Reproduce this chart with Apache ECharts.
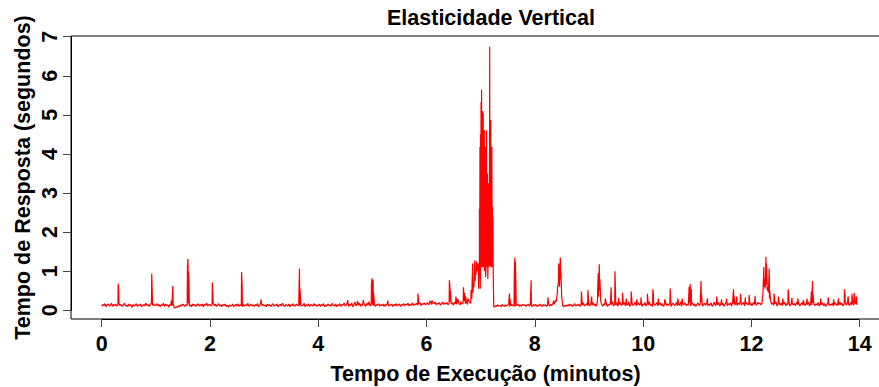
<!DOCTYPE html>
<html>
<head>
<meta charset="utf-8">
<script src="https://cdn.jsdelivr.net/npm/echarts@6/dist/echarts.min.js"></script>
<style>
html,body{margin:0;padding:0;background:#fff;}
#chart{width:879px;height:387px;}
</style>
</head>
<body>
<div id="chart"></div>
<script>
// Baseline response times, one array per minute, sampled every 0.02 min
const SAMPLE_STEP = 0.02;
const m0 = [0.10,0.15,0.12,0.17,0.09,0.14,0.16,0.11,0.13,0.18,0.10,0.15,0.12,0.16,0.11,0.14,0.17,0.12,0.15,0.10,0.14,0.18,0.11,0.13,0.09,0.16,0.12,0.14,0.08,0.15,0.11,0.13,0.17,0.10,0.14,0.12,0.16,0.09,0.13,0.15,0.11,0.18,0.12,0.14,0.10,0.16,0.19,0.13,0.16,0.12];
const m1 = [0.13,0.17,0.11,0.15,0.09,0.14,0.12,0.18,0.10,0.16,0.12,0.14,0.08,0.15,0.13,0.11,0.17,0.07,0.06,0.09,0.07,0.12,0.09,0.14,0.11,0.16,0.13,0.10,0.15,0.12,0.18,0.11,0.14,0.09,0.16,0.12,0.15,0.10,0.13,0.17,0.11,0.14,0.12,0.16,0.09,0.15,0.13,0.18,0.11,0.14];
const m2 = [0.15,0.11,0.14,0.18,0.12,0.16,0.10,0.13,0.17,0.11,0.14,0.09,0.15,0.12,0.16,0.10,0.13,0.08,0.14,0.11,0.12,0.16,0.09,0.13,0.15,0.11,0.17,0.10,0.14,0.12,0.09,0.15,0.11,0.14,0.12,0.18,0.10,0.13,0.16,0.11,0.14,0.10,0.15,0.12,0.17,0.09,0.13,0.20,0.12,0.15];
const m3 = [0.11,0.14,0.09,0.16,0.12,0.15,0.10,0.13,0.17,0.11,0.14,0.12,0.16,0.09,0.13,0.15,0.11,0.18,0.12,0.10,0.15,0.13,0.11,0.16,0.09,0.14,0.12,0.17,0.10,0.13,0.16,0.12,0.14,0.10,0.15,0.11,0.13,0.18,0.09,0.14,0.12,0.16,0.10,0.15,0.13,0.11,0.17,0.12,0.14,0.10];
const m4 = [0.13,0.16,0.10,0.15,0.12,0.17,0.09,0.14,0.11,0.16,0.12,0.15,0.10,0.18,0.13,0.11,0.16,0.09,0.14,0.12,0.17,0.10,0.15,0.13,0.19,0.11,0.14,0.20,0.10,0.16,0.12,0.18,0.09,0.15,0.21,0.11,0.17,0.13,0.19,0.10,0.16,0.12,0.20,0.14,0.10,0.18,0.13,0.22,0.11,0.15];
const m5 = [0.14,0.11,0.16,0.10,0.15,0.13,0.17,0.11,0.14,0.12,0.16,0.10,0.15,0.12,0.18,0.11,0.14,0.13,0.16,0.10,0.15,0.12,0.17,0.11,0.14,0.16,0.10,0.15,0.13,0.17,0.12,0.16,0.14,0.18,0.11,0.15,0.13,0.19,0.12,0.16,0.14,0.18,0.13,0.16,0.20,0.12,0.17,0.15,0.19,0.14];
const m6 = [0.16,0.20,0.14,0.18,0.22,0.15,0.19,0.17,0.21,0.14,0.18,0.16,0.20,0.13,0.17,0.21,0.15,0.19,0.16,0.20,0.14,0.18,0.22,0.16,0.19,0.13,0.21,0.17,0.15,0.20,0.18,0.14,0.22,0.16,0.19,0.24,0.17,0.21,0.15,0.26,0.20,0.18,0.30,0.45,0.60,0.75,0.95,1.05,1.10,1.15];
const m7 = [1.15,1.10,1.20,1.10,1.15,1.00,1.10,1.20,1.15,1.10,1.20,1.10,1.00,0.08,0.12,0.10,0.14,0.11,0.13,0.09,0.15,0.12,0.10,0.14,0.11,0.13,0.16,0.10,0.12,0.15,0.11,0.13,0.09,0.14,0.12,0.16,0.10,0.13,0.11,0.15,0.12,0.14,0.10,0.13,0.16,0.11,0.14,0.12,0.10,0.15];
const m8 = [0.12,0.15,0.10,0.14,0.11,0.16,0.13,0.09,0.15,0.12,0.14,0.10,0.13,0.17,0.11,0.15,0.12,0.18,0.16,0.20,0.22,0.45,0.70,0.60,0.80,0.35,0.12,0.09,0.13,0.10,0.14,0.11,0.16,0.12,0.15,0.10,0.13,0.17,0.11,0.14,0.12,0.16,0.10,0.15,0.13,0.19,0.11,0.14,0.17,0.12];
const m9 = [0.15,0.11,0.18,0.13,0.20,0.12,0.16,0.10,0.22,0.35,0.50,0.25,0.14,0.11,0.17,0.13,0.20,0.10,0.15,0.12,0.18,0.14,0.22,0.11,0.16,0.13,0.19,0.10,0.15,0.21,0.12,0.17,0.14,0.20,0.11,0.16,0.13,0.22,0.10,0.15,0.18,0.12,0.16,0.21,0.11,0.14,0.19,0.13,0.17,0.10];
const m10 = [0.16,0.13,0.20,0.11,0.17,0.14,0.22,0.12,0.15,0.10,0.18,0.13,0.16,0.20,0.11,0.14,0.19,0.12,0.17,0.10,0.15,0.21,0.12,0.16,0.13,0.19,0.10,0.15,0.18,0.12,0.14,0.20,0.11,0.16,0.13,0.22,0.10,0.17,0.14,0.19,0.12,0.16,0.13,0.20,0.11,0.15,0.18,0.12,0.16,0.10];
const m11 = [0.15,0.19,0.12,0.16,0.22,0.11,0.14,0.18,0.13,0.20,0.11,0.16,0.13,0.19,0.10,0.15,0.21,0.12,0.17,0.14,0.20,0.11,0.16,0.13,0.18,0.10,0.15,0.22,0.12,0.17,0.14,0.19,0.11,0.23,0.16,0.13,0.20,0.12,0.18,0.15,0.22,0.13,0.17,0.20,0.11,0.16,0.19,0.14,0.18,0.13];
const m12 = [0.17,0.12,0.20,0.15,0.18,0.13,0.21,0.16,0.19,0.14,0.17,0.45,0.60,0.55,0.65,0.50,0.45,0.30,0.25,0.15,0.19,0.13,0.17,0.22,0.11,0.16,0.20,0.13,0.18,0.12,0.16,0.21,0.12,0.17,0.14,0.20,0.11,0.15,0.19,0.13,0.17,0.12,0.21,0.14,0.18,0.11,0.16,0.20,0.13,0.17];
const m13 = [0.12,0.18,0.14,0.21,0.11,0.16,0.13,0.19,0.15,0.12,0.17,0.13,0.20,0.11,0.16,0.14,0.19,0.12,0.17,0.10,0.15,0.20,0.12,0.16,0.13,0.18,0.11,0.15,0.19,0.12,0.16,0.13,0.21,0.14,0.18,0.11,0.17,0.22,0.13,0.19,0.15,0.12,0.20,0.14,0.18,0.13,0.21,0.16,0.14];
const minutes = [m0,m1,m2,m3,m4,m5,m6,m7,m8,m9,m10,m11,m12,m13];

// Isolated spikes: [minute, seconds]
const spikes = [
 [0.305,0.68],[0.315,0.50],[0.925,0.94],
 [1.285,0.25],[1.305,0.35],[1.315,0.62],
 [1.585,1.11],[1.595,1.31],[1.605,1.00],[1.615,0.65],
 [2.045,0.71],[2.585,0.98],[2.595,0.65],[2.945,0.28],
 [3.655,1.07],[3.665,0.55],
 [4.545,0.26],[4.725,0.24],[4.835,0.27],
 [4.985,0.65],[4.995,0.82],[5.015,0.78],[5.025,0.45],
 [5.285,0.25],[5.845,0.43],
 [6.065,0.24],[6.105,0.25],
 [6.425,0.77],[6.435,0.62],[6.445,0.50],
 [6.545,0.35],[6.565,0.30],[6.585,0.28],
 [6.685,0.59],[6.705,0.45],[6.725,0.36],[6.765,0.30],[6.825,0.52],
 [6.845,0.70],[6.855,1.20],[6.875,0.75],[6.895,1.28],[6.905,0.88],[6.925,1.25],[6.935,1.00],[6.955,1.20],[6.965,0.55],
 [7.535,0.43],[7.545,0.30],
 [7.625,1.00],[7.635,1.35],[7.645,1.25],[7.655,0.60],
 [7.935,0.77],[8.245,0.33],[8.355,0.25],[8.395,0.27],
 [8.425,0.60],[8.445,1.20],[8.455,0.90],[8.475,1.35],[8.485,1.00],[8.495,0.60],
 [8.865,0.48],[8.985,0.52],[9.055,0.35],
 [9.165,0.50],[9.175,0.95],[9.195,1.18],[9.205,0.80],[9.215,0.50],
 [9.305,0.30],[9.415,0.59],[9.485,1.00],[9.555,0.32],
 [9.625,0.45],[9.695,0.30],[9.785,0.48],[9.885,0.28],[9.965,0.33],
 [10.085,0.42],[10.185,0.54],[10.195,0.40],[10.285,0.30],[10.405,0.28],
 [10.505,0.56],[10.645,0.30],[10.725,0.30],
 [10.855,0.60],[10.875,0.67],[10.895,0.55],
 [11.075,0.75],[11.085,0.40],[11.195,0.30],[11.365,0.35],[11.455,0.28],[11.545,0.30],
 [11.675,0.54],[11.685,0.38],[11.735,0.35],[11.805,0.42],[11.895,0.33],[11.965,0.39],[12.075,0.37],
 [12.235,1.11],[12.255,0.80],[12.275,1.37],[12.285,1.20],[12.305,0.60],[12.335,1.07],[12.345,0.50],
 [12.425,0.43],[12.505,0.35],[12.585,0.30],[12.685,0.54],[12.695,0.40],[12.755,0.32],[12.865,0.30],
 [12.965,0.26],[13.035,0.30],[13.115,0.48],[13.135,0.75],[13.145,0.40],
 [13.285,0.30],[13.425,0.33],[13.525,0.28],[13.615,0.30],
 [13.725,0.54],[13.735,0.40],[13.795,0.36],[13.865,0.42],[13.905,0.45],[13.945,0.35]
];

// Overload burst around minute 7, sampled every 0.005 min
const BURST_START = 6.975;
const BURST_STEP = 0.005;
const burst = [1.10,2.60,1.00,4.18,0.55,4.50,1.10,5.33,1.20,5.65,1.15,3.80,1.10,5.10,1.20,5.04,1.10,3.60,1.15,4.61,
 1.00,3.30,1.10,4.18,0.85,3.90,1.15,4.60,1.20,3.20,1.10,3.50,0.80,3.00,1.10,3.25,1.20,2.90,1.15,6.74,
 1.10,4.40,1.20,4.87,1.15,3.60,1.10,4.18,1.20,2.65,1.10,2.40,1.00,0.50,0.10];

const xTicks = [0,2,4,6,8,10,12,14];
const yTicks = [0,1,2,3,4,5,6,7];

// assemble series
const pts = [];
minutes.forEach((arr, k) => arr.forEach((v, j) => pts.push([+(k + j * SAMPLE_STEP).toFixed(3), v])));
spikes.forEach(p => pts.push([p[0], p[1]]));
burst.forEach((v, i) => pts.push([+(BURST_START + i * BURST_STEP).toFixed(4), v]));
pts.sort((a, b) => a[0] - b[0]);

const FONT = '"Liberation Sans", Arial, sans-serif';
const chart = echarts.init(document.getElementById('chart'), null, {renderer: 'svg'});
chart.setOption({
  animation: false,
  backgroundColor: '#ffffff',
  title: {
    text: 'Elasticidade Vertical',
    left: 387, top: 7, padding: 0,
    textStyle: {fontFamily: FONT, fontWeight: 'bold', fontSize: 21.5, color: '#000'}
  },
  grid: [
    {left: 71, top: 36, width: 819, height: 283, show: true, borderColor: '#000', borderWidth: 1, backgroundColor: 'transparent', outerBoundsMode: 'none', containLabel: false},
    {left: 101.7, top: 36, width: 758, height: 283, show: false, outerBoundsMode: 'none', containLabel: false},
    {left: 71, top: 36.7, width: 819, height: 273.6, show: false, outerBoundsMode: 'none', containLabel: false}
  ],
  xAxis: [
    {gridIndex: 0, type: 'value', min: -0.567, max: 14.567,
     axisLine: {show: false}, axisTick: {show: false}, axisLabel: {show: false}, splitLine: {show: false},
     name: 'Tempo de Execução (minutos)', nameLocation: 'middle', nameGap: 44,
     nameTextStyle: {fontFamily: FONT, fontWeight: 'bold', fontSize: 21.5, color: '#000', padding: [0, 0, 0, 10]}},
    {gridIndex: 1, type: 'value', min: xTicks[0], max: xTicks[xTicks.length - 1], interval: 2,
     axisLine: {show: true, lineStyle: {color: '#000', width: 1}},
     axisTick: {show: true, inside: false, length: 8, lineStyle: {color: '#444', width: 1}},
     axisLabel: {show: true, margin: 14, fontFamily: FONT, fontWeight: 'bold', fontSize: 21.5, color: '#000'},
     splitLine: {show: false}},
    {gridIndex: 2, type: 'value', min: 0, max: 1, show: false}
  ],
  yAxis: [
    {gridIndex: 0, type: 'value', min: -0.2226, max: 7.018,
     axisLine: {show: false}, axisTick: {show: false}, axisLabel: {show: false}, splitLine: {show: false},
     name: 'Tempo de Resposta (segundos)', nameLocation: 'middle', nameGap: 37, nameRotate: 90,
     nameTextStyle: {fontFamily: FONT, fontWeight: 'bold', fontSize: 21.5, color: '#000'}},
    {gridIndex: 1, type: 'value', min: 0, max: 1, show: false},
    {gridIndex: 2, type: 'value', min: yTicks[0], max: yTicks[yTicks.length - 1], interval: 1,
     axisLine: {show: true, lineStyle: {color: '#000', width: 1}},
     axisTick: {show: true, inside: false, length: 8, lineStyle: {color: '#444', width: 1}},
     axisLabel: {show: true, rotate: 90, margin: 10, fontFamily: FONT, fontWeight: 'bold', fontSize: 21.5, color: '#000'},
     splitLine: {show: false}}
  ],
  series: [{
    type: 'line', xAxisIndex: 0, yAxisIndex: 0,
    data: pts, showSymbol: false, symbol: 'none', sampling: null,
    lineStyle: {color: '#ff0000', width: 1.2}, clip: true, silent: true
  }]
});
</script>
</body>
</html>
